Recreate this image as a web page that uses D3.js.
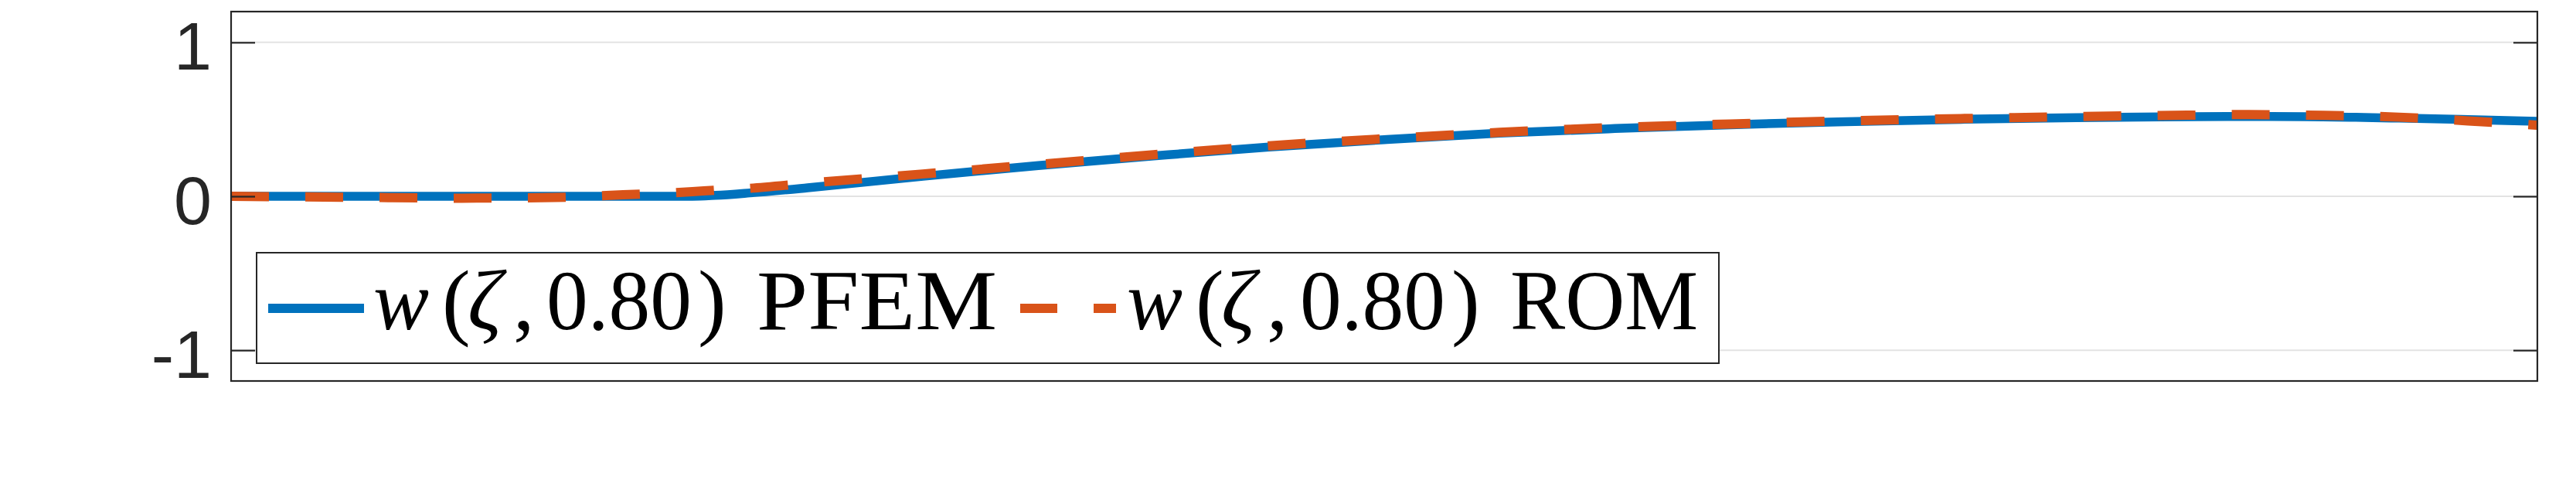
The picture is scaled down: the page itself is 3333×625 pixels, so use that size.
<!DOCTYPE html>
<html>
<head>
<meta charset="utf-8">
<script src="https://cdn.jsdelivr.net/npm/d3@7"></script>
<style>
  html, body { margin: 0; padding: 0; background: #ffffff; }
  svg { display: block; }
  .serif { font-family: "Liberation Serif", "Times New Roman", Times, serif; }
</style>
</head>
<body>
<svg id="chart" width="3333" height="625"></svg>
<script>
// ---- data ----
const zeta = [0, 0.05, 0.10, 0.14, 0.17, 0.20, 0.21, 0.225, 0.25, 0.30, 0.35, 0.40, 0.45, 0.50,
              0.55, 0.60, 0.65, 0.70, 0.75, 0.80, 0.85, 0.875, 0.90, 0.94, 0.97, 1.00];
const pfem = [0, 0, 0, 0, 0, 0, 0.006, 0.022, 0.055, 0.13, 0.20, 0.262, 0.32, 0.368,
              0.41, 0.44, 0.465, 0.485, 0.50, 0.511, 0.517, 0.518, 0.517, 0.508, 0.498, 0.487];
const rom  = [0, -0.006, -0.012, -0.008, 0.010, 0.030, 0.040, 0.052, 0.085, 0.145, 0.207, 0.27, 0.328, 0.374,
              0.415, 0.447, 0.47, 0.49, 0.505, 0.518, 0.527, 0.531, 0.527, 0.514, 0.490, 0.462];
const yTicks = [-1, 0, 1];
const yTickLabels = ["-1", "0", "1"];
const seriesNames = ["PFEM", "ROM"];
const timeLabel = "0.80";
const xDomain = [0, 1];
const yDomain = [-1.2, 1.2];

// ---- layout ----
const plot = { left: 299, right: 3283, top: 15, bottom: 493 };
const axisColor = "#262626";
const colors = ["#0072BD", "#D95319"];

const svg = d3.select("#chart");
const x = d3.scaleLinear().domain(xDomain).range([plot.left, plot.right]);
const y = d3.scaleLinear().domain(yDomain).range([plot.bottom, plot.top]);

// grid lines
svg.append("g").selectAll("line").data(yTicks).join("line")
  .attr("x1", plot.left).attr("x2", plot.right)
  .attr("y1", d => y(d)).attr("y2", d => y(d))
  .attr("stroke", "#e3e3e3").attr("stroke-width", 2);

// clip
svg.append("clipPath").attr("id", "clip").append("rect")
  .attr("x", plot.left).attr("y", plot.top)
  .attr("width", plot.right - plot.left).attr("height", plot.bottom - plot.top);

const line = (vals) => d3.line()
  .x((d, i) => x(zeta[i]))
  .y(d => y(d))
  .curve(d3.curveMonotoneX)(vals);

const g = svg.append("g").attr("clip-path", "url(#clip)");
g.append("path").attr("d", line(pfem))
  .attr("fill", "none").attr("stroke", colors[0]).attr("stroke-width", 11.5)
  .attr("stroke-linejoin", "round");
g.append("path").attr("d", line(rom))
  .attr("fill", "none").attr("stroke", colors[1]).attr("stroke-width", 12)
  .attr("stroke-dasharray", "49,47").attr("stroke-linecap", "butt");

// left and right y axes (ticks inward)
const leftAxis = d3.axisLeft(y).tickValues(yTicks).tickSize(-31)
  .tickFormat((d, i) => yTickLabels[i]);
const la = svg.append("g").attr("transform", `translate(${plot.left},0)`).call(leftAxis);
la.select(".domain").remove();
la.selectAll(".tick line").attr("stroke", axisColor).attr("stroke-width", 2.2);
la.selectAll(".tick text")
  .attr("x", -25).attr("dy", 35)
  .attr("fill", axisColor)
  .attr("font-family", "Liberation Sans, Arial, Helvetica, sans-serif")
  .attr("font-size", 88)
  .attr("text-anchor", "end");
la.attr("font-family", null).attr("font-size", null);

const rightAxis = d3.axisRight(y).tickValues(yTicks).tickSize(-31).tickFormat("");
const ra = svg.append("g").attr("transform", `translate(${plot.right},0)`).call(rightAxis);
ra.select(".domain").remove();
ra.selectAll(".tick line").attr("stroke", axisColor).attr("stroke-width", 2.2);

// frame
svg.append("rect")
  .attr("x", plot.left).attr("y", plot.top)
  .attr("width", plot.right - plot.left).attr("height", plot.bottom - plot.top)
  .attr("fill", "none").attr("stroke", axisColor).attr("stroke-width", 2.2);

// legend
const legend = { x0: 332, x1: 2224, y0: 327, y1: 470 };
svg.append("rect")
  .attr("x", legend.x0).attr("y", legend.y0)
  .attr("width", legend.x1 - legend.x0).attr("height", legend.y1 - legend.y0)
  .attr("fill", "#ffffff").attr("stroke", axisColor).attr("stroke-width", 2);

const entries = [
  { lineX: 347, textX: 483, dash: null, nameWidth: 311 },
  { lineX: 1320, textX: 1458, dash: "48,47", nameWidth: 243 }
];
const lineY = 399, baseY = 426, sampleLen = 124;

entries.forEach((e, i) => {
  const l = svg.append("line")
    .attr("x1", e.lineX).attr("x2", e.lineX + sampleLen)
    .attr("y1", lineY).attr("y2", lineY)
    .attr("stroke", colors[i]).attr("stroke-width", 12);
  if (e.dash) l.attr("stroke-dasharray", e.dash);

  const t = svg.append("text")
    .attr("class", "serif")
    .attr("y", baseY)
    .attr("font-size", 110)
    .attr("fill", "#000");
  const parts = [
    { s: "w", dx: 0, it: true, len: 72 },
    { s: "(", dx: 89 },
    { s: "ζ", dx: 122, it: true },
    { s: ",", dx: 181 },
    { s: timeLabel, dx: 224, len: 188 },
    { s: ")", dx: 420 },
    { s: seriesNames[i], dx: 496, len: e.nameWidth }
  ];
  parts.forEach(p => {
    const ts = t.append("tspan").attr("x", e.textX + p.dx).text(p.s);
    if (p.it) ts.attr("font-style", "italic");
    if (p.len) ts.attr("textLength", p.len).attr("lengthAdjust", "spacingAndGlyphs");
  });
});
</script>
</body>
</html>
